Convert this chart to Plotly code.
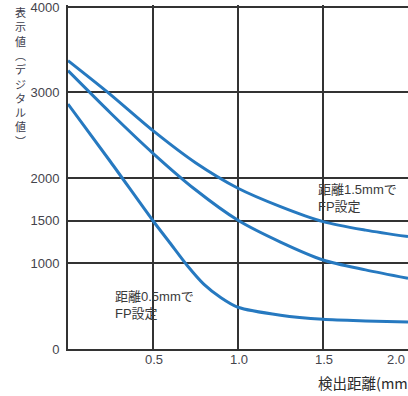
import plotly.graph_objects as go

# Data
x_top = [0, 0.25, 0.5, 0.75, 1.0, 1.25, 1.5, 1.75, 2.0]
y_top = [3372, 2975, 2553, 2178, 1880, 1665, 1490, 1390, 1314]   # 距離1.5mmでFP設定

x_mid = [0, 0.25, 0.5, 0.75, 1.0, 1.25, 1.5, 1.75, 2.0]
y_mid = [3255, 2760, 2289, 1862, 1505, 1250, 1041, 925, 827]

x_bot = [0, 0.25, 0.5, 0.6, 0.7, 0.8, 0.9, 1.0, 1.25, 1.5, 1.75, 2.0]
y_bot = [2865, 2190, 1500, 1240, 980, 756, 600, 488, 395, 347, 328, 316]  # 距離0.5mmでFP設定

y_ticks = [0, 1000, 1500, 2000, 3000, 4000]
y_ticktext = ["0", "1000", "1500", "2000", "3000", "4000"]
x_ticks = [0.5, 1.0, 1.5, 2.0]
x_ticktext = ["0.5", "1.0", "1.5", "2.0"]

y_title_chars = ["表", "示", "値", "︵", "デ", "ジ", "タ", "ル", "値", "︶"]
x_title = "検出距離(mm)"
label_05 = "距離0.5mmで<br>FP設定"
label_15 = "距離1.5mmで<br>FP設定"

LINE = "rgb(38,121,192)"
GRID = "#333333"
TXT = "#44444c"
FONT = "Liberation Sans, Arial, Noto Sans CJK JP, sans-serif"

fig = go.Figure()
for xs, ys in [(x_top, y_top), (x_mid, y_mid), (x_bot, y_bot)]:
    fig.add_trace(go.Scatter(x=xs, y=ys, mode="lines",
                             line=dict(color=LINE, width=3, shape="spline", smoothing=0.8),
                             hoverinfo="skip", showlegend=False))

annotations = []
for v, t in zip(x_ticks, x_ticktext):
    last = v == max(x_ticks)
    annotations.append(dict(x=v, y=0, xref="x", yref="y", text=t, showarrow=False,
                            xanchor="right" if last else "center", yanchor="middle",
                            xshift=-1 if last else 1, yshift=-10,
                            font=dict(family=FONT, size=13, color=TXT)))

# vertical (stacked) Japanese y-axis title
annotations.append(dict(x=-0.141, y=1.0, xref="paper", yref="paper",
                        text="<br>".join(y_title_chars), showarrow=False,
                        xanchor="center", yanchor="top", align="center", yshift=3,
                        font=dict(family="Noto Sans CJK JP", size=11, color="#3c3c4c")))

annotations.append(dict(x=1.458, y=0, xref="x", yref="paper", text=x_title,
                        showarrow=False, xanchor="left", yanchor="middle", yshift=-33,
                        font=dict(family="Noto Sans CJK JP", size=14.5, color="#2a2a2a")))
annotations.append(dict(x=0.265, y=515, xref="x", yref="y", text=label_05,
                        showarrow=False, xanchor="left", yanchor="middle", align="left",
                        font=dict(family=FONT, size=13, color="#3a3a3a")))
annotations.append(dict(x=1.458, y=1766, xref="x", yref="y", text=label_15,
                        showarrow=False, xanchor="left", yanchor="middle", align="left",
                        font=dict(family=FONT, size=13, color="#3a3a3a")))

fig.update_layout(
    width=408, height=396,
    margin=dict(l=68, r=0, t=5, b=47),
    paper_bgcolor="white", plot_bgcolor="white",
    annotations=annotations,
    xaxis=dict(range=[0, 2.0], tickvals=x_ticks, showticklabels=False,
               showgrid=True, gridcolor=GRID, gridwidth=1.5,
               showline=True, linecolor=GRID, linewidth=2, zeroline=False, ticks=""),
    yaxis=dict(range=[0, 4023], tickvals=y_ticks, ticktext=y_ticktext,
               showgrid=True, gridcolor=GRID, gridwidth=1.5, automargin=False,
               showline=True, linecolor=GRID, linewidth=2, zeroline=False, ticks="",
               ticklabelstandoff=4, ticklabeloverflow="allow",
               tickfont=dict(family=FONT, size=13, color=TXT)),
)

fig.write_html("out.html", config={"displayModeBar": False},
               post_script="document.body.style.margin='0';document.body.style.overflow='hidden';")
